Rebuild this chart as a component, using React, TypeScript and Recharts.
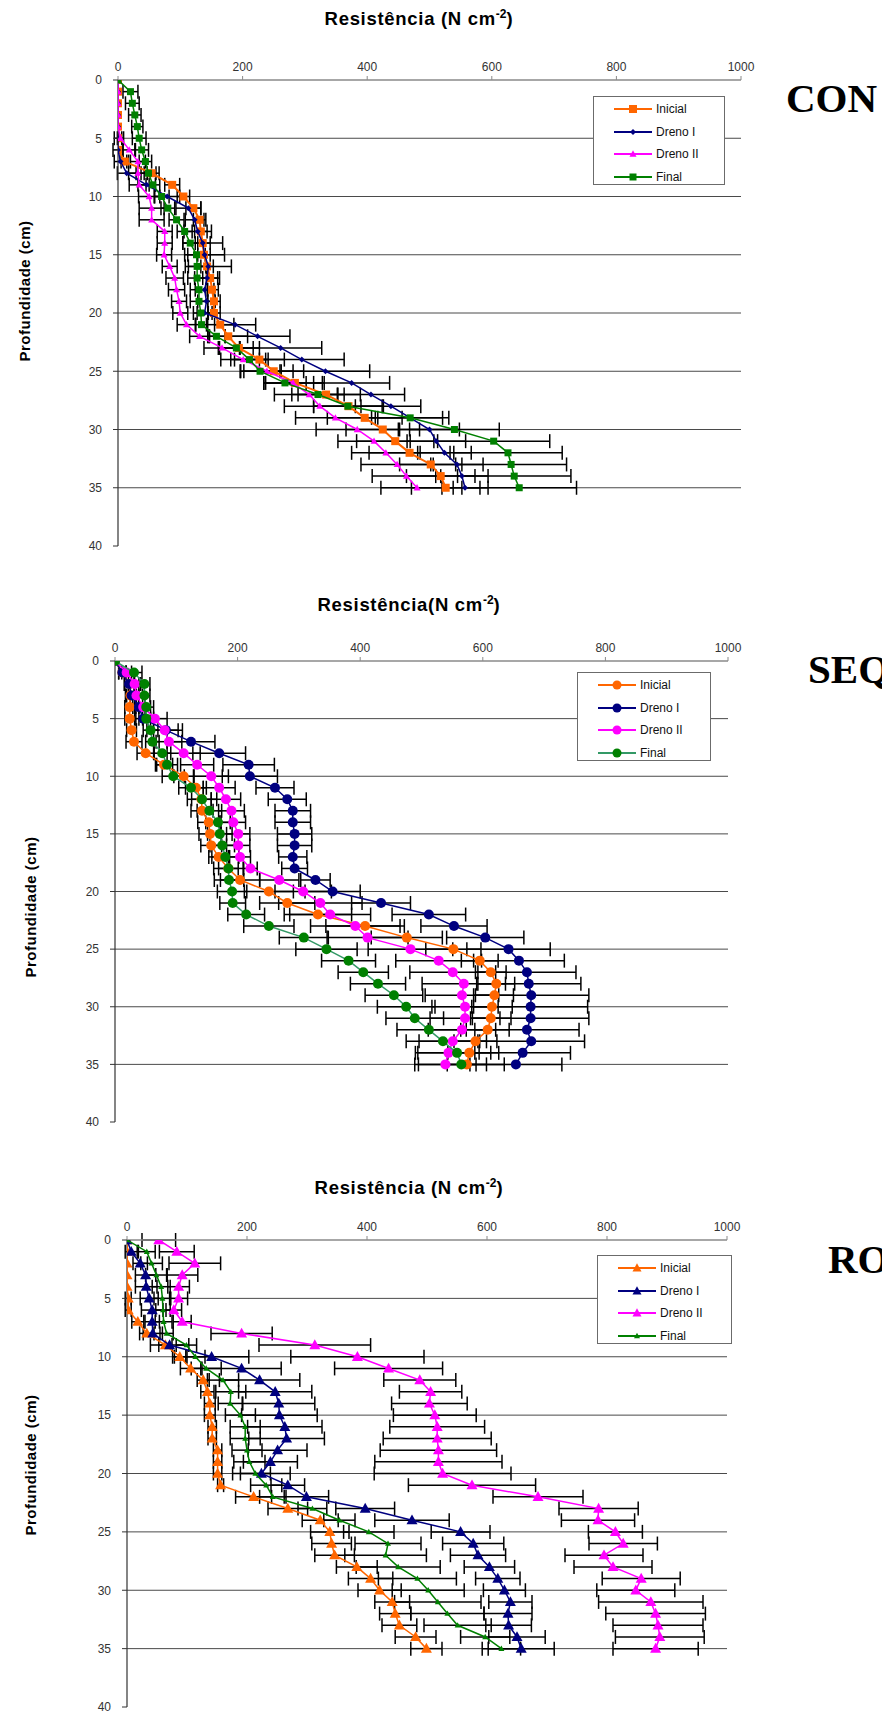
import React from 'react';
import { ScatterChart, Scatter, XAxis, YAxis, ErrorBar, ReferenceLine } from 'recharts';

// Profundidade (cm), shared by all three profiles
const DEPTHS = [0, 1, 2, 3, 4, 5, 6, 7, 8, 9, 10, 11, 12, 13, 14, 15, 16, 17, 18, 19, 20, 21, 22, 23, 24, 25, 26, 27, 28, 29, 30, 31, 32, 33, 34, 35];
const X_TICKS = [0, 200, 400, 600, 800, 1000];
const Y_TICKS = [0, 5, 10, 15, 20, 25, 30, 35, 40];
const GRID_DEPTHS = [5, 10, 15, 20, 25, 30, 35];
const SERIES_NAMES = ['Inicial', 'Dreno I', 'Dreno II', 'Final'];

// CON
const CON_INICIAL = [0, 0, 0, 0, 0, 0, 0, 11, 54, 87, 105, 121, 131, 133, 136, 138, 143, 148, 151, 154, 154, 164, 177, 194, 227, 250, 284, 334, 370, 396, 425, 445, 468, 502, 518, 526];
const CON_INICIAL_ERR = [0, 0, 0, 0, 0, 0, 0, 6, 12, 12, 10, 12, 10, 10, 12, 10, 10, 12, 10, 10, 10, 22, 31, 33, 40, 48, 47, 55, 56, 60, 59, 62, 65, 50, 55, 55];
const CON_DRENO1 = [0, 0, 0, 0, 0, 0, 0, 4, 14, 46, 79, 113, 123, 128, 136, 139, 145, 143, 139, 142, 139, 188, 224, 261, 295, 333, 375, 406, 438, 469, 500, 511, 524, 544, 552, 557];
const CON_DRENO1_ERR = [0, 0, 0, 0, 0, 6, 8, 10, 15, 14, 20, 20, 15, 22, 32, 32, 37, 20, 15, 14, 12, 33, 52, 66, 68, 71, 61, 54, 48, 52, 48, 47, 43, 42, 42, 37];
const CON_DRENO2 = [0, 0, 0, 0, 0, 4, 18, 32, 32, 34, 50, 54, 54, 75, 75, 74, 83, 91, 94, 98, 100, 110, 131, 167, 201, 239, 281, 307, 324, 349, 384, 411, 430, 448, 463, 480];
const CON_DRENO2_ERR = [0, 0, 0, 0, 0, 5, 10, 12, 15, 16, 17, 20, 20, 12, 12, 12, 12, 14, 13, 12, 12, 15, 16, 29, 36, 42, 47, 56, 57, 64, 66, 58, 55, 58, 55, 58];
const CON_FINAL = [0, 20, 23, 27, 31, 34, 38, 44, 49, 56, 70, 80, 94, 107, 116, 126, 127, 127, 130, 130, 133, 134, 158, 190, 211, 228, 268, 321, 369, 469, 540, 603, 626, 631, 636, 644];
const CON_FINAL_ERR = [0, 12, 11, 10, 9, 11, 11, 10, 12, 11, 12, 11, 12, 12, 12, 14, 14, 15, 14, 14, 12, 10, 14, 27, 30, 32, 34, 32, 55, 62, 72, 90, 87, 89, 91, 92];

// SEQ
const SEQ_INICIAL = [0, 12, 24, 25, 24, 24, 27, 31, 50, 80, 112, 132, 141, 142, 153, 155, 157, 169, 185, 204, 251, 281, 331, 408, 476, 552, 595, 613, 622, 619, 615, 613, 608, 588, 578, 574];
const SEQ_INICIAL_ERR = [0, 6, 8, 8, 8, 8, 8, 13, 14, 14, 16, 17, 16, 18, 18, 18, 17, 16, 16, 32, 40, 45, 55, 64, 58, 45, 30, 25, 30, 31, 33, 33, 35, 35, 35, 32];
const SEQ_DRENO1 = [0, 12, 23, 27, 39, 46, 83, 124, 170, 218, 220, 261, 281, 290, 290, 293, 293, 290, 293, 327, 355, 434, 512, 553, 604, 642, 659, 672, 675, 679, 678, 678, 672, 679, 665, 654];
const SEQ_DRENO1_ERR = [0, 6, 8, 8, 10, 12, 20, 39, 43, 42, 45, 31, 31, 29, 29, 28, 28, 23, 21, 24, 45, 48, 60, 54, 63, 68, 74, 80, 85, 94, 93, 95, 85, 87, 78, 75];
const SEQ_DRENO2 = [0, 19, 32, 35, 46, 65, 81, 88, 112, 134, 157, 170, 181, 190, 193, 201, 201, 204, 221, 268, 307, 335, 351, 392, 412, 482, 528, 551, 569, 566, 571, 571, 566, 551, 544, 539];
const SEQ_DRENO2_ERR = [0, 8, 10, 10, 12, 20, 29, 21, 27, 27, 28, 26, 24, 21, 20, 19, 19, 17, 11, 32, 46, 68, 66, 73, 66, 69, 70, 70, 68, 60, 54, 57, 55, 55, 50, 50];
const SEQ_FINAL = [0, 31, 48, 48, 51, 51, 58, 61, 77, 85, 95, 124, 142, 154, 168, 171, 175, 180, 185, 186, 191, 192, 214, 251, 308, 345, 381, 405, 429, 455, 475, 489, 512, 535, 558, 565];
const SEQ_FINAL_ERR = [0, 13, 9, 9, 12, 12, 12, 11, 14, 17, 18, 20, 24, 20, 20, 20, 20, 22, 24, 24, 24, 21, 30, 41, 40, 50, 44, 41, 45, 47, 47, 47, 52, 60, 68, 70];

// RO
const RO_INICIAL = [0, 0, 0, 0, 0, 2, 2, 18, 33, 64, 88, 106, 127, 134, 138, 138, 142, 142, 151, 151, 151, 156, 211, 268, 322, 338, 341, 346, 383, 406, 421, 442, 447, 454, 481, 499];
const RO_INICIAL_ERR = [0, 0, 0, 0, 0, 5, 5, 10, 12, 11, 12, 17, 10, 11, 9, 9, 7, 7, 7, 7, 7, 5, 30, 33, 30, 32, 33, 33, 34, 37, 36, 29, 26, 29, 34, 26];
const RO_DRENO1 = [0, 7, 22, 31, 32, 37, 42, 42, 43, 71, 141, 191, 221, 247, 253, 254, 263, 266, 251, 239, 224, 268, 299, 397, 475, 556, 577, 585, 604, 618, 629, 639, 635, 636, 650, 657];
const RO_DRENO1_ERR = [0, 10, 12, 17, 18, 15, 18, 12, 16, 32, 62, 66, 67, 61, 60, 63, 62, 63, 49, 45, 48, 28, 37, 49, 62, 49, 51, 46, 42, 37, 35, 36, 40, 38, 47, 55];
const RO_DRENO2 = [53, 83, 113, 92, 86, 86, 78, 92, 191, 313, 384, 436, 488, 506, 504, 513, 517, 517, 519, 519, 526, 575, 685, 786, 785, 814, 827, 795, 810, 857, 848, 873, 881, 885, 888, 881];
const RO_DRENO2_ERR = [28, 29, 43, 26, 18, 15, 13, 15, 51, 93, 111, 90, 60, 52, 63, 69, 79, 90, 97, 106, 114, 106, 75, 66, 61, 45, 57, 65, 65, 65, 65, 87, 83, 75, 74, 71];
const RO_FINAL = [0, 33, 41, 49, 57, 59, 60, 61, 66, 99, 114, 132, 160, 173, 172, 189, 197, 197, 200, 204, 214, 232, 243, 309, 354, 403, 435, 431, 452, 484, 502, 518, 534, 551, 597, 624];
const RO_FINAL_ERR = [0, 14, 18, 18, 15, 14, 12, 14, 11, 17, 16, 25, 26, 25, 20, 25, 25, 25, 25, 26, 25, 26, 22, 24, 26, 42, 55, 68, 70, 65, 60, 72, 61, 56, 41, 32];

const FONT = '"Liberation Sans", Arial, sans-serif';
const ORANGE = '#FF6600';
const NAVY = '#000080';
const MAGENTA = '#FF00FF';
const GREEN = '#008000';

type MarkerKind = 'square' | 'diamond' | 'triangle' | 'circle';

interface SeriesStyle {
  color: string;
  lineColor: string;
  marker: MarkerKind;
  size: number;
  lineWidth: number;
}

interface PanelDef {
  title: string;
  tag: string;
  x0: number; // pixel of 0 N cm-2
  x1: number; // pixel of 1000 N cm-2
  y0: number; // pixel of depth 0
  y40: number; // pixel of depth 40
  titleX: number;
  titleY: number;
  yLabelX: number;
  yLabelY: number;
  tagX: number;
  tagBaseline: number;
  legend: { left: number; top: number; width: number; height: number };
  values: number[][];
  errors: number[][];
  styles: SeriesStyle[];
}

function drawMarker(kind: MarkerKind, cx: number, cy: number, size: number, color: string) {
  const h = size / 2;
  switch (kind) {
    case 'square':
      return <rect x={cx - h} y={cy - h} width={size} height={size} fill={color} />;
    case 'diamond':
      return <polygon points={`${cx},${cy - h} ${cx + h},${cy} ${cx},${cy + h} ${cx - h},${cy}`} fill={color} />;
    case 'triangle':
      return (
        <polygon
          points={`${cx},${cy - h * 1.05} ${cx + h},${cy + h * 0.75} ${cx - h},${cy + h * 0.75}`}
          fill={color}
        />
      );
    default:
      return <circle cx={cx} cy={cy} r={h} fill={color} />;
  }
}

const shapeFor = (style: SeriesStyle) => (props: any) => {
  const { cx, cy } = props;
  if (cx == null || cy == null) return <g />;
  return drawMarker(style.marker, cx, cy, style.size, style.color);
};

function toPoints(values: number[], errors: number[]) {
  return DEPTHS.map((d, i) => ({ x: values[i], y: d, err: errors[i] }));
}

const squareStyles: SeriesStyle[] = [
  { color: ORANGE, lineColor: ORANGE, marker: 'square', size: 8, lineWidth: 2 },
  { color: NAVY, lineColor: NAVY, marker: 'diamond', size: 6, lineWidth: 1.5 },
  { color: MAGENTA, lineColor: MAGENTA, marker: 'triangle', size: 7, lineWidth: 1.5 },
  { color: GREEN, lineColor: GREEN, marker: 'square', size: 7, lineWidth: 1.5 },
];

const circleStyles: SeriesStyle[] = [
  { color: ORANGE, lineColor: ORANGE, marker: 'circle', size: 10, lineWidth: 1.5 },
  { color: NAVY, lineColor: NAVY, marker: 'circle', size: 10, lineWidth: 1.5 },
  { color: MAGENTA, lineColor: MAGENTA, marker: 'circle', size: 10, lineWidth: 1.5 },
  { color: GREEN, lineColor: '#339966', marker: 'circle', size: 10, lineWidth: 1.5 },
];

const triangleStyles: SeriesStyle[] = [
  { color: ORANGE, lineColor: ORANGE, marker: 'triangle', size: 11, lineWidth: 1.5 },
  { color: NAVY, lineColor: NAVY, marker: 'triangle', size: 11, lineWidth: 1.5 },
  { color: MAGENTA, lineColor: MAGENTA, marker: 'triangle', size: 11, lineWidth: 1.5 },
  { color: GREEN, lineColor: GREEN, marker: 'triangle', size: 6, lineWidth: 1.5 },
];

const PANELS: PanelDef[] = [
  {
    title: 'Resistência (N cm',
    tag: 'CON',
    x0: 118, x1: 741, y0: 80, y40: 546,
    titleX: 419, titleY: 19,
    yLabelX: 24, yLabelY: 291,
    tagX: 786, tagBaseline: 112,
    legend: { left: 593, top: 96, width: 132, height: 89 },
    values: [CON_INICIAL, CON_DRENO1, CON_DRENO2, CON_FINAL],
    errors: [CON_INICIAL_ERR, CON_DRENO1_ERR, CON_DRENO2_ERR, CON_FINAL_ERR],
    styles: squareStyles,
  },
  {
    title: 'Resistência(N cm',
    tag: 'SEQ',
    x0: 115, x1: 728, y0: 661, y40: 1122,
    titleX: 409, titleY: 605,
    yLabelX: 30, yLabelY: 907,
    tagX: 808, tagBaseline: 683,
    legend: { left: 577, top: 672, width: 134, height: 89 },
    values: [SEQ_INICIAL, SEQ_DRENO1, SEQ_DRENO2, SEQ_FINAL],
    errors: [SEQ_INICIAL_ERR, SEQ_DRENO1_ERR, SEQ_DRENO2_ERR, SEQ_FINAL_ERR],
    styles: circleStyles,
  },
  {
    title: 'Resistência (N cm',
    tag: 'RO',
    x0: 127, x1: 727, y0: 1240, y40: 1707,
    titleX: 409, titleY: 1188,
    yLabelX: 30, yLabelY: 1465,
    tagX: 828, tagBaseline: 1273,
    legend: { left: 597, top: 1255, width: 135, height: 89 },
    values: [RO_INICIAL, RO_DRENO1, RO_DRENO2, RO_FINAL],
    errors: [RO_INICIAL_ERR, RO_DRENO1_ERR, RO_DRENO2_ERR, RO_FINAL_ERR],
    styles: triangleStyles,
  },
];

function LegendBox({ panel }: { panel: PanelDef }) {
  const { legend, styles } = panel;
  return (
    <div
      style={{
        position: 'absolute',
        left: legend.left,
        top: legend.top,
        width: legend.width,
        height: legend.height,
        boxSizing: 'border-box',
        border: '1px solid #6b6b6b',
        background: '#fff',
        paddingTop: 1,
      }}
    >
      {SERIES_NAMES.map((name, i) => (
        <div key={name} style={{ display: 'flex', alignItems: 'center', height: 22.5, marginLeft: 20 }}>
          <svg width={38} height={14}>
            <line x1={0} y1={7} x2={38} y2={7} stroke={styles[i].lineColor} strokeWidth={2} />
            {drawMarker(styles[i].marker, 19, 7, Math.min(styles[i].size, 9), styles[i].color)}
          </svg>
          <span style={{ fontFamily: FONT, fontSize: 12, color: '#111', marginLeft: 4 }}>{name}</span>
        </div>
      ))}
    </div>
  );
}

function ProfilePanel({ panel }: { panel: PanelDef }) {
  const chartTop = panel.y0 - 40;
  const height = panel.y40 - panel.y0 + 50;
  return (
    <>
      <div
        style={{
          position: 'absolute',
          left: panel.titleX,
          top: panel.titleY,
          transform: 'translate(-50%, -50%)',
          whiteSpace: 'nowrap',
          fontFamily: FONT,
          fontWeight: 700,
          fontSize: 18.5,
          letterSpacing: 0.7,
          color: '#000',
        }}
      >
        {panel.title}
        <sup style={{ fontSize: 12, verticalAlign: 0, position: 'relative', top: -7, letterSpacing: 0 }}>-2</sup>)
      </div>
      <div
        style={{
          position: 'absolute',
          left: panel.yLabelX,
          top: panel.yLabelY,
          transform: 'translate(-50%, -50%) rotate(-90deg)',
          whiteSpace: 'nowrap',
          fontFamily: FONT,
          fontWeight: 700,
          fontSize: 15,
          letterSpacing: 0.5,
          color: '#000',
        }}
      >
        Profundidade (cm)
      </div>
      <div
        style={{
          position: 'absolute',
          left: panel.tagX,
          top: panel.tagBaseline - 37,
          fontFamily: '"Liberation Serif", "Times New Roman", serif',
          fontWeight: 700,
          fontSize: 41,
          lineHeight: '46px',
          color: '#000',
          whiteSpace: 'nowrap',
        }}
      >
        {panel.tag}
      </div>
      <div style={{ position: 'absolute', left: 0, top: chartTop, width: 882, height }}>
        <ScatterChart
          width={882}
          height={height}
          margin={{ top: 10, right: 882 - panel.x1, bottom: 10, left: panel.x0 - 50 }}
        >
          <XAxis
            type="number"
            dataKey="x"
            orientation="top"
            domain={[0, 1000]}
            ticks={X_TICKS}
            height={30}
            axisLine={{ stroke: '#8a8a8a', strokeWidth: 1.5 }}
            tickLine={{ stroke: '#8a8a8a' }}
            tickSize={4}
            tickMargin={5}
            tick={{ fontSize: 12, fontFamily: FONT, fill: '#333' }}
            allowDataOverflow
          />
          <YAxis
            type="number"
            dataKey="y"
            domain={[0, 40]}
            ticks={Y_TICKS}
            reversed
            width={50}
            interval={0}
            axisLine={{ stroke: '#333', strokeWidth: 1.2 }}
            tickLine={{ stroke: '#333' }}
            tickSize={5}
            tickMargin={11}
            tick={{ fontSize: 12, fontFamily: FONT, fill: '#333' }}
            allowDataOverflow
          />
          {GRID_DEPTHS.map((d) => (
            <ReferenceLine key={d} y={d} stroke="#4a4a4a" strokeWidth={1} />
          ))}
          {SERIES_NAMES.map((name, i) => {
            const style = panel.styles[i];
            return (
              <Scatter
                key={name}
                name={name}
                data={toPoints(panel.values[i], panel.errors[i])}
                line={{ stroke: style.lineColor, strokeWidth: style.lineWidth }}
                lineType="joint"
                shape={shapeFor(style)}
                fill={style.color}
                isAnimationActive={false}
              >
                <ErrorBar dataKey="err" direction="x" width={7} stroke="#000" strokeWidth={1.5} />
              </Scatter>
            );
          })}
        </ScatterChart>
      </div>
      <LegendBox panel={panel} />
    </>
  );
}

export default function App() {
  return (
    <div style={{ position: 'absolute', left: 0, top: 0, width: 882, height: 1713, background: '#fff', overflow: 'hidden' }}>
      {PANELS.map((p) => (
        <ProfilePanel key={p.tag} panel={p} />
      ))}
    </div>
  );
}
